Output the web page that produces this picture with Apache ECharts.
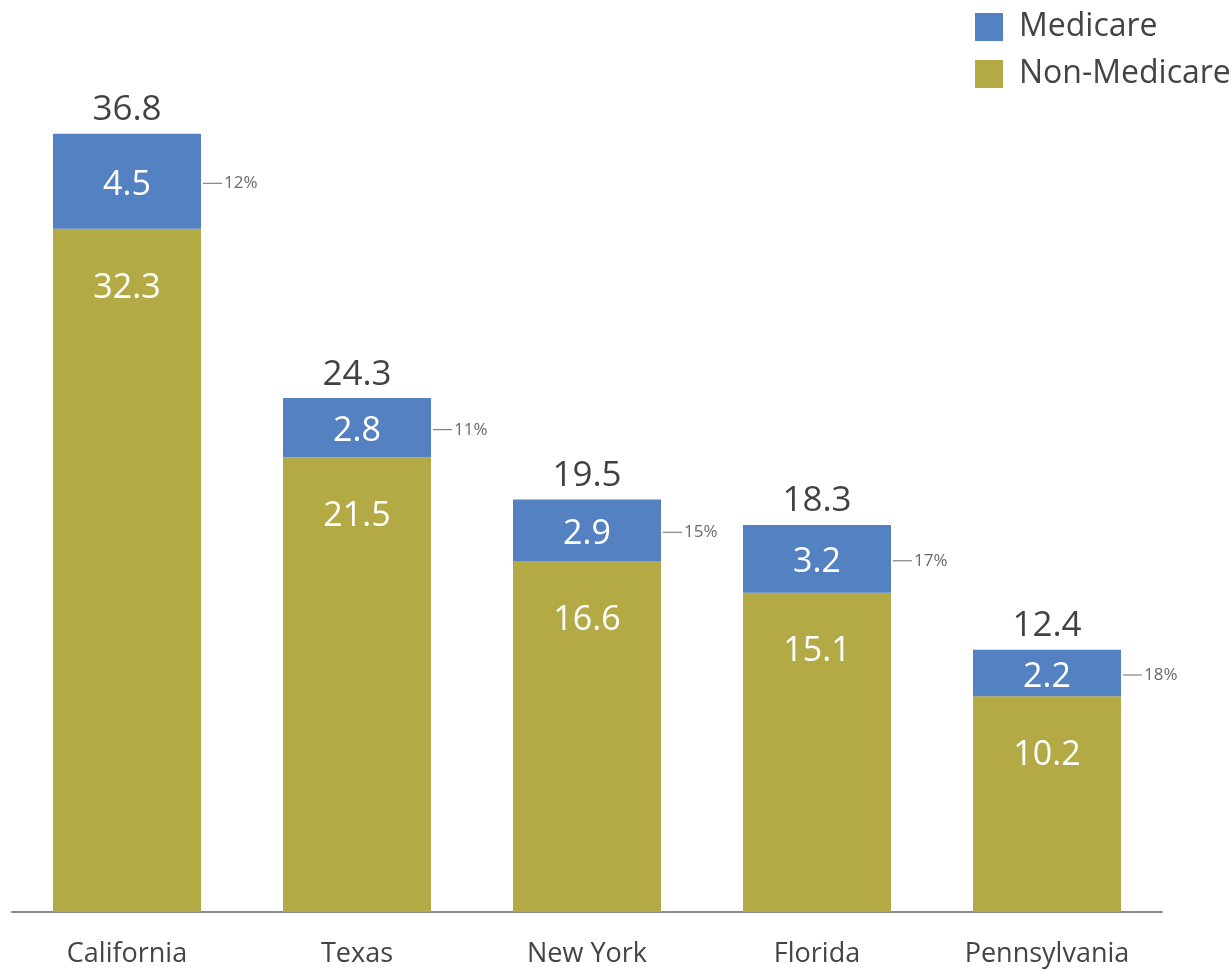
<!DOCTYPE html>
<html>
<head>
<meta charset="utf-8">
<script src="https://cdn.jsdelivr.net/npm/echarts@6/dist/echarts.min.js"></script>
<style>html,body{margin:0;padding:0;background:#fff}#c{width:1232px;height:971px}</style>
</head>
<body>
<div id="c"></div>
<script>
const categories = ['California', 'Texas', 'New York', 'Florida', 'Pennsylvania'];
const medicare = [4.5, 2.8, 2.9, 3.2, 2.2];
const nonMedicare = [32.3, 21.5, 16.6, 15.1, 10.2];
const totals = [36.8, 24.3, 19.5, 18.3, 12.4];
const shares = ['12%', '11%', '15%', '17%', '18%'];

const FONT = "'Open Sans', 'Noto Sans', sans-serif";
const BLUE = '#5381C1';
const OLIVE = '#B3AA46';

const chart = echarts.init(document.getElementById('c'));
chart.setOption({
  animation: false,
  textStyle: { fontFamily: FONT },
  legend: {
    data: ['Medicare', 'Non-Medicare'],
    orient: 'vertical',
    left: 975,
    top: 11,
    padding: 0,
    itemWidth: 28,
    itemHeight: 28,
    itemGap: 15,
    icon: 'rect',
    textStyle: { fontSize: 32, color: '#444', fontFamily: FONT, lineHeight: 28, padding: [0, 0, 0, 11] },
    selectedMode: false
  },
  grid: { left: 12, right: 70, top: 66, bottom: 59 },
  xAxis: {
    type: 'category',
    data: categories,
    axisLine: { lineStyle: { color: '#8a8a8a', width: 2 } },
    axisTick: { show: false },
    axisLabel: { fontSize: 27, color: '#444', margin: 29, fontFamily: FONT }
  },
  yAxis: { type: 'value', min: 0, max: 40, show: false, splitLine: { show: false } },
  series: [
    {
      name: 'Non-Medicare', type: 'bar', stack: 'a', barWidth: 148,
      itemStyle: { color: OLIVE },
      label: { show: true, position: 'insideTop', distance: 42, color: '#fff', fontSize: 34, fontFamily: FONT },
      data: nonMedicare
    },
    {
      name: 'Medicare', type: 'bar', stack: 'a', barWidth: 148,
      itemStyle: { color: BLUE },
      label: { show: true, position: 'inside', offset: [0, 4], color: '#fff', fontSize: 34, fontFamily: FONT },
      data: medicare
    },
    {
      name: 'totals', type: 'scatter', symbolSize: 0, silent: true,
      itemStyle: { color: '#000' },
      label: { show: true, position: 'top', distance: 6, color: '#111', fontSize: 35, fontFamily: FONT,
        formatter: p => totals[p.dataIndex].toFixed(1) },
      data: totals
    },
    {
      name: 'shares', type: 'scatter', symbolSize: 0, silent: true,
      label: {
        show: true, position: 'right', distance: 76, offset: [0, 2],
        formatter: p => '{l|}{t|' + shares[p.dataIndex] + '}',
        rich: {
          l: { width: 19, height: 1, backgroundColor: '#444', verticalAlign: 'middle' },
          t: { fontSize: 17, color: '#444', fontFamily: FONT, padding: [0, 0, 0, 2], verticalAlign: 'middle' }
        }
      },
      data: nonMedicare.map((v, i) => v + medicare[i] / 2)
    }
  ]
});
</script>
</body>
</html>
